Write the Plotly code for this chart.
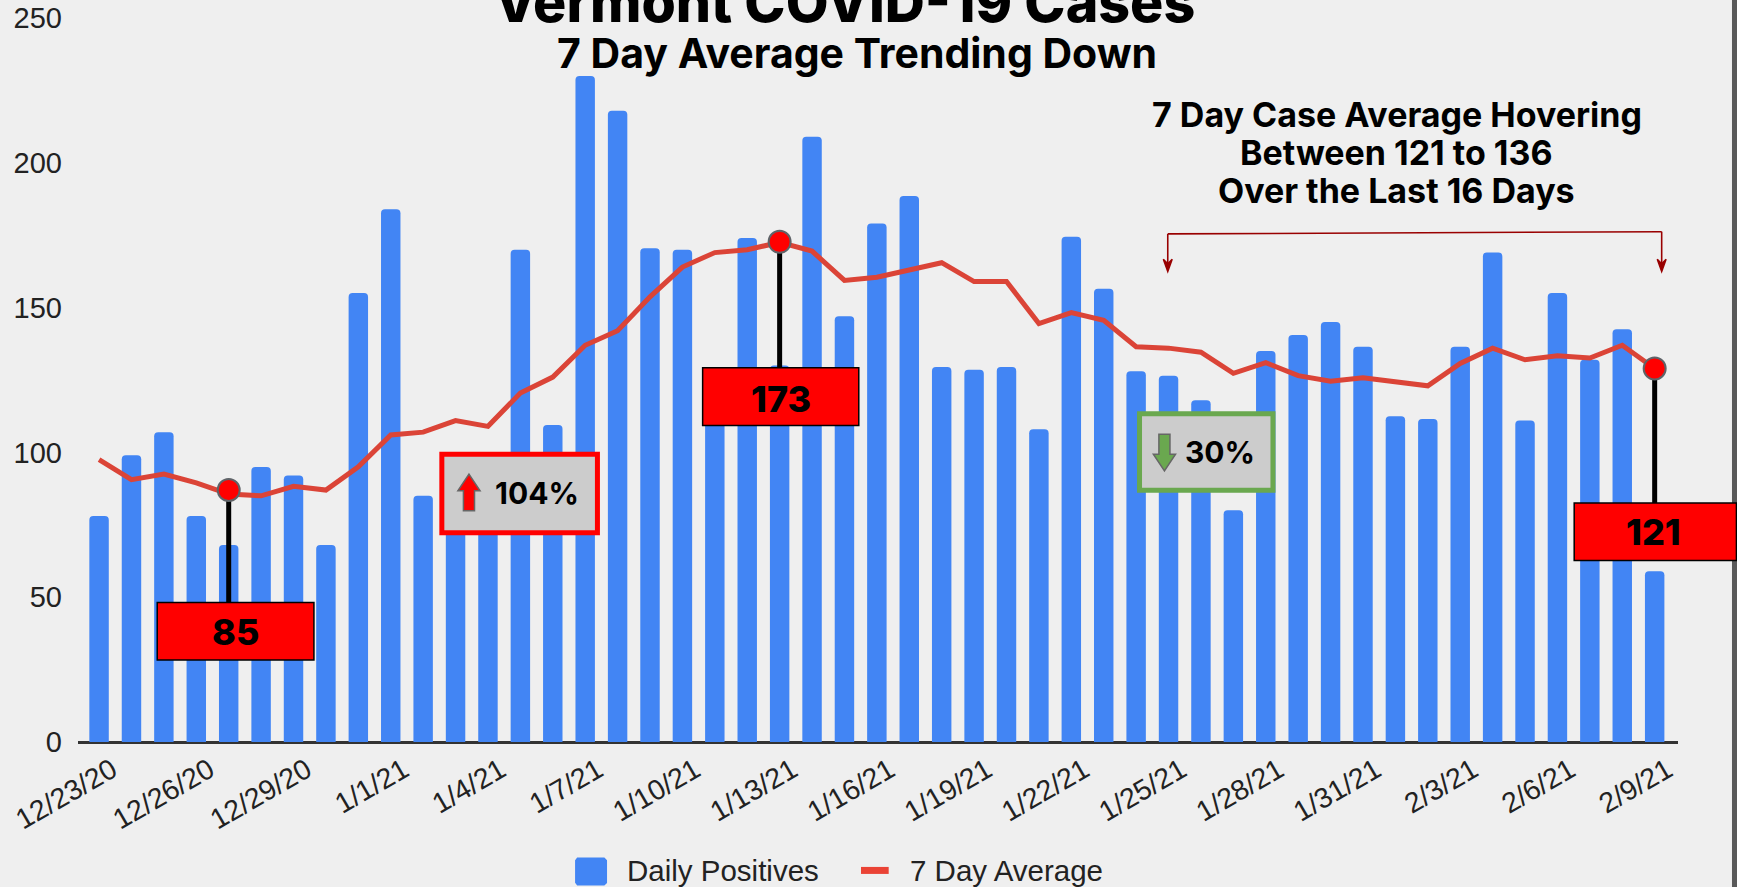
import plotly.graph_objects as go

W, H = 1737, 887
S = 1737 / 1568  # reference view to full size
L, R, T, B = 77.5, 1678, 17.7, 742.2

dates = ["12/23/20","12/24/20","12/25/20","12/26/20","12/27/20","12/28/20","12/29/20","12/30/20","12/31/20",
         "1/1/21","1/2/21","1/3/21","1/4/21","1/5/21","1/6/21","1/7/21","1/8/21","1/9/21","1/10/21",
         "1/11/21","1/12/21","1/13/21","1/14/21","1/15/21","1/16/21","1/17/21","1/18/21","1/19/21","1/20/21",
         "1/21/21","1/22/21","1/23/21","1/24/21","1/25/21","1/26/21","1/27/21","1/28/21","1/29/21","1/30/21","1/31/21",
         "2/1/21","2/2/21","2/3/21","2/4/21","2/5/21","2/6/21","2/7/21","2/8/21","2/9/21"]
daily = [78,99,107,78,68,95,92,68,155,184,85,96,81,170,109.5,230,218,170.5,170,
         112,174,130,209,147,179,188.5,129.5,128.5,129.5,108,174.5,156.5,128,126.5,118,80,135,140.5,145,136.5,
         112.5,111.5,136.5,169,111,155,132,142.5,59]
avg7 = [97.5,90.6,92.5,89.5,85.6,85,88.3,87,95,106,107,111,109,120.5,126,137,142,153.7,164,
        169,170,172.5,169.5,159.4,160.5,163,165.5,159,159,144.5,148.3,145.6,136.5,136,134.6,127.3,131,126.5,124.6,125.8,
        124.2,123,130.7,136,132,133.4,132.6,137,129]
tick_dates = dates[::3]
pin_dates = ["12/27/20", "1/13/21", "2/9/21"]
pin_vals = [87, 172.7, 129]
pin_labels = ["85", "173", "121"]
title = "Vermont COVID-19 Cases"
subtitle = "7 Day Average Trending Down"
note_lines = ["7 Day Case Average Hovering", "Between 121 to 136", "Over the Last 16 Days"]
up_label = "104%"
down_label = "30%"
legend_names = ["Daily Positives", "7 Day Average"]

HEAD = "Inter, Montserrat, sans-serif"
BODY = "Liberation Sans, Arial, sans-serif"

def px(x): return (x - L) / (R - L)
def py(y): return (B - y) / (B - T)
def value_at(y): return 250 * py(y * S)

shapes, ann = [], []

def rect(x0, y0, x1, y1, fill, line, lw):
    shapes.append(dict(type="rect", xref="paper", yref="paper", layer="above",
                       x0=px(x0*S), x1=px(x1*S), y0=py(y0*S), y1=py(y1*S),
                       fillcolor=fill, line=dict(color=line, width=lw)))

def text(x, y, s, size, weight=700, font=HEAD, color="#000000", anchor="center"):
    ann.append(dict(xref="paper", yref="paper", x=px(x*S), y=py(y*S), text=s, showarrow=False,
                    xanchor=anchor, yanchor="middle", align="center",
                    font=dict(family=font, size=size, color=color, weight=weight)))

def seg(x0, y0, x1, y1):
    shapes.append(dict(type="line", xref="paper", yref="paper", layer="above",
                       x0=px(x0*S), x1=px(x1*S), y0=py(y0*S), y1=py(y1*S),
                       line=dict(color="#990000", width=1.6)))

def poly(points, fill, line):
    d = "M" + " L".join(f"{px(a*S):.5f},{py(b*S):.5f}" for a, b in points) + " Z"
    shapes.append(dict(type="path", xref="paper", yref="paper", layer="above", path=d,
                       fillcolor=fill, line=dict(color=line, width=1.5)))

# right-hand window edge
shapes.append(dict(type="rect", xref="paper", yref="paper", layer="above",
                   x0=px(1732), x1=px(1738), y0=py(888), y1=py(-1),
                   fillcolor="#595959", line_width=0))

# pin boxes
pin_boxes = [(141.5, 544, 283, 596), (634, 332, 775, 384), (1421, 454, 1567.5, 506)]
for b in pin_boxes:
    rect(*b, "#ff0000", "#000000", 1.5)
text(212, 571, pin_labels[0], 36, 800)
text(705, 360, pin_labels[1], 36, 800)
text(1493, 480, pin_labels[2], 36, 800)

# change boxes
rect(398.5, 410, 539, 481, "#cccccc", "#ff0000", 5)
rect(1028.5, 373.5, 1149, 442.5, "#cccccc", "#6aa84f", 5)
poly([(423,428),(433,443),(428,443),(428,461),(418,461),(418,443),(413,443)], "#ff0000", "#666666")
poly([(1051,425),(1041,410),(1046,410),(1046,392),(1056,392),(1056,410),(1061,410)], "#6aa84f", "#666666")
text(484, 445, up_label, 30, 700)
text(1101, 408, down_label, 30, 700)

# bracket
seg(1054, 211, 1500, 209)
seg(1054, 211, 1054, 238)
seg(1500, 209, 1500, 238)
poly([(1054,245),(1050,234),(1054,238),(1058,234)], "#990000", "#990000")
poly([(1500,245),(1496,234),(1500,238),(1504,234)], "#990000", "#990000")

text(762, 1, title, 55.5, 800)
text(773.5, 48, subtitle, 41, 700)
for yy, line in zip([103, 137.5, 172], note_lines):
    text(1261, yy, line, 34, 700)

# legend key
poly([(521,775),(545,775),(547,777),(547,797),(545,799),(521,799),(519.5,797),(519.5,777)], "#4285f4", "#4285f4")
shapes.append(dict(type="line", xref="paper", yref="paper", layer="above",
                   x0=px(777*S), x1=px(802*S), y0=py(786*S), y1=py(786*S),
                   line=dict(color="#ea4335", width=7)))
text(564, 786, legend_names[0], 29.5, 400, BODY, "#222222", "left")
text(819, 786, legend_names[1], 29.5, 400, BODY, "#222222", "left")

fig = go.Figure()
fig.add_bar(x=dates, y=daily, name=legend_names[0],
            marker=dict(color="#4285f4", line_width=0, cornerradius=4), width=0.6)
fig.add_scatter(x=dates, y=avg7, mode="lines", name=legend_names[1],
                line=dict(color="#db4437", width=5))
for d, v, b in zip(pin_dates, pin_vals, pin_boxes):
    fig.add_scatter(x=[d, d], y=[v, value_at((b[1] + b[3]) / 2)], mode="lines", showlegend=False,
                    line=dict(color="#000000", width=5))
fig.add_scatter(x=pin_dates, y=pin_vals, mode="markers", showlegend=False,
                marker=dict(color="#ff0000", size=22, line=dict(color="#5f6368", width=2)))

fig.update_layout(
    width=W, height=H, autosize=False,
    margin=dict(l=L, r=W-R, t=T, b=H-B),
    paper_bgcolor="#efefef", plot_bgcolor="#efefef",
    showlegend=False, bargap=0.4,
    font=dict(family=BODY, color="#222222"),
    shapes=shapes, annotations=ann,
    xaxis=dict(type="category", categoryorder="array", categoryarray=dates, range=[-0.65, 48.72],
               tickmode="array", tickvals=tick_dates, ticktext=tick_dates, tickangle=-30,
               ticks="", showgrid=False, showline=False, zeroline=False,
               tickfont=dict(family=BODY, size=28.5, color="#222222"), automargin=False,
               ticklabelshift=13, ticklabelstandoff=5),
    yaxis=dict(range=[0, 250], tickmode="array", tickvals=[0,50,100,150,200,250], showgrid=False,
               zeroline=True, zerolinecolor="#333333", zerolinewidth=3, showline=False,
               ticks="", tickfont=dict(family=BODY, size=29, color="#222222"), automargin=False,
               ticklabelstandoff=15),
)
fig.write_html("out.html", config={"displayModeBar": False},
               post_script="document.body.style.margin='0';document.body.style.overflow='hidden';")
